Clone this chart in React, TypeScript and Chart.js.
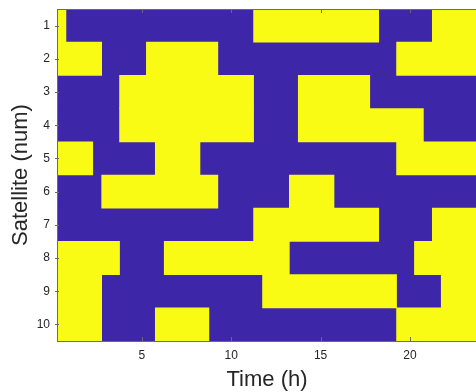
import { useEffect, useRef } from "react";
import { Chart, registerables } from "chart.js";

Chart.register(...registerables);

// Satellite labels (top to bottom)
const satellites = ["1", "2", "3", "4", "5", "6", "7", "8", "9", "10"];

// Time axis extent (h) and tick labels
const timeStart = 0.25;
const timeEnd = 23.75;
const xTicks = [5, 10, 15, 20];

// Visibility windows (state = 1, yellow) per satellite, [start, end] in hours
const sat1 = [[0.25, 0.75], [11.25, 18.25], [21.25, 23.75]];
const sat2 = [[0.25, 2.75], [5.25, 9.25], [19.25, 23.75]];
const sat3 = [[3.75, 11.25], [13.75, 17.75]];
const sat4 = [[3.75, 11.25], [13.75, 20.75]];
const sat5 = [[0.25, 2.25], [5.75, 8.25], [19.25, 23.75]];
const sat6 = [[2.75, 9.25], [13.25, 15.75]];
const sat7 = [[11.25, 18.25], [21.25, 23.75]];
const sat8 = [[0.25, 3.75], [6.25, 13.25], [20.25, 23.75]];
const sat9 = [[0.25, 2.75], [11.75, 19.25], [21.75, 23.75]];
const sat10 = [[0.25, 2.75], [5.75, 8.75], [19.25, 23.75]];

const windows = [sat1, sat2, sat3, sat4, sat5, sat6, sat7, sat8, sat9, sat10];

const BLUE = "rgb(62,38,168)";
const YELLOW = "rgb(249,251,21)";
const TEXT = "#262626";
const AXIS = "#6b6b6b";
const FONT = "'Liberation Sans', Arial, Helvetica, sans-serif";

const boxPlugin = {
  id: "box",
  afterDraw(chart: any) {
    const { ctx, chartArea } = chart;
    const xs = chart.scales.x;
    const ys = chart.scales.y;
    ctx.save();
    ctx.strokeStyle = AXIS;
    ctx.lineWidth = 1;
    ctx.strokeRect(
      Math.round(chartArea.left) + 0.5,
      Math.round(chartArea.top) + 0.5,
      chartArea.right - chartArea.left,
      Math.round(chartArea.bottom - chartArea.top)
    );
    // inward tick marks
    ctx.beginPath();
    xTicks.forEach((v) => {
      const px = Math.round(xs.getPixelForValue(v)) + 0.5;
      ctx.moveTo(px, chartArea.bottom);
      ctx.lineTo(px, chartArea.bottom - 4);
      ctx.moveTo(px, chartArea.top);
      ctx.lineTo(px, chartArea.top + 4);
    });
    satellites.forEach((_, i) => {
      const py = Math.round(ys.getPixelForValue(i)) + 0.5;
      ctx.moveTo(chartArea.left - 2, py);
      ctx.lineTo(chartArea.left + 2, py);
    });
    ctx.stroke();
    ctx.restore();
  },
};

export default function App() {
  const ref = useRef<HTMLCanvasElement | null>(null);

  useEffect(() => {
    if (!ref.current) return;
    const maxWin = Math.max(...windows.map((w) => w.length));
    const datasets: any[] = [];
    datasets.push({
      label: "state 0",
      data: satellites.map(() => [timeStart, timeEnd]),
      backgroundColor: BLUE,
      order: 10,
      grouped: false,
      barPercentage: 1,
      categoryPercentage: 1,
      borderWidth: 0,
    });
    for (let j = 0; j < maxWin; j++) {
      datasets.push({
        label: "state 1 #" + (j + 1),
        data: windows.map((w) => (w[j] ? [w[j][0], w[j][1]] : null)),
        backgroundColor: YELLOW,
        order: 1,
        grouped: false,
        barPercentage: 1,
        categoryPercentage: 1,
        borderWidth: 0,
      });
    }

    const chart = new Chart(ref.current, {
      type: "bar",
      data: { labels: satellites, datasets },
      options: {
        indexAxis: "y",
        responsive: false,
        animation: false,
        layout: { padding: { top: 9, right: 1, bottom: 0, left: 0 } },
        plugins: { legend: { display: false }, tooltip: { enabled: false } },
        scales: {
          x: {
            type: "linear",
            min: timeStart,
            max: timeEnd,
            afterBuildTicks: (s: any) => {
              s.ticks = xTicks.map((v) => ({ value: v }));
            },
            afterFit: (s: any) => {
              s.height = 51;
              s.paddingLeft = 0;
              s.paddingRight = 0;
            },
            grid: { drawOnChartArea: false, drawTicks: false },
            border: { display: false },
            ticks: {
              padding: 7,
              color: TEXT,
              autoSkip: false,
              maxRotation: 0,
              font: { size: 12, family: FONT },
            },
            title: {
              display: true,
              text: "Time (h)",
              color: TEXT,
              font: { size: 22, family: FONT, lineHeight: 1 },
              padding: { top: 0, bottom: 1 },
            },
          },
          y: {
            type: "category",
            afterFit: (s: any) => {
              s.width = 57;
              s.paddingTop = 0;
              s.paddingBottom = 0;
            },
            grid: { drawOnChartArea: false, drawTicks: false },
            border: { display: false },
            ticks: {
              padding: 7,
              color: TEXT,
              autoSkip: false,
              font: { size: 12, family: FONT },
            },
            title: {
              display: true,
              text: "Satellite (num)",
              color: TEXT,
              font: { size: 22, family: FONT, lineHeight: 1 },
              padding: { top: 10, bottom: 0 },
            },
          },
        },
      } as any,
      plugins: [boxPlugin],
    });
    return () => chart.destroy();
  }, []);

  return (
    <div
      style={{
        position: "fixed",
        left: 0,
        top: 0,
        width: 476,
        height: 392,
        overflow: "hidden",
        background: "#fff",
      }}
    >
      <canvas ref={ref} width={478} height={392} style={{ display: "block" }} />
    </div>
  );
}
